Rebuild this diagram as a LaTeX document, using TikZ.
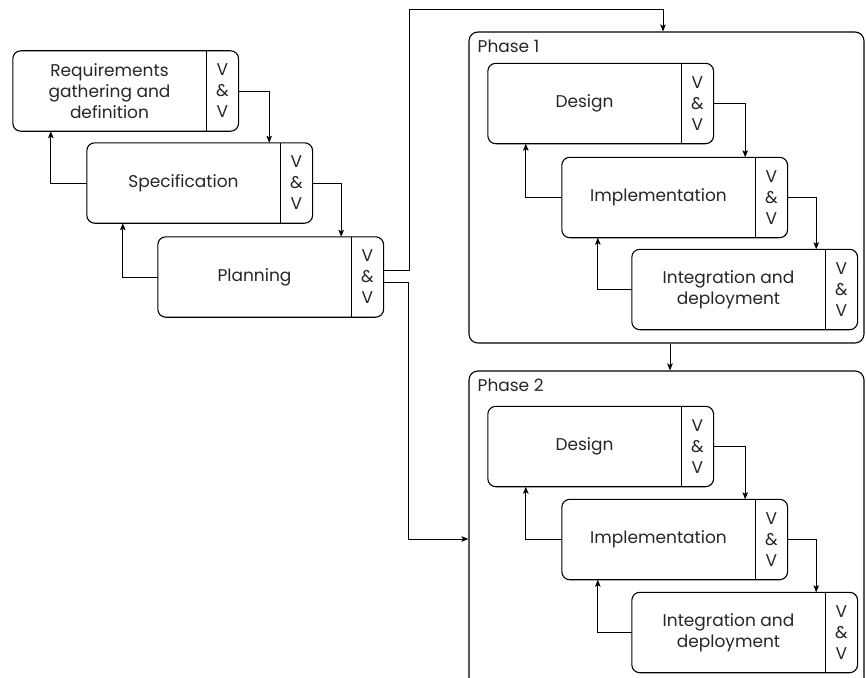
\documentclass[tikz,border=0pt]{standalone}
\usepackage{fontspec}
\setmainfont{Poppins}
\usetikzlibrary{arrows.meta,positioning}

\begin{document}
\begin{tikzpicture}[x=1pt,y=-1pt,>={Stealth[length=7pt,width=5.5pt,inset=1.5pt]},
                    font=\fontsize{17}{21}\selectfont,
                    stage/.style={minimum width=193pt,minimum height=80pt,
                                  inner sep=0pt,align=center,text=black!85},
                    vv/.style={minimum width=32pt,minimum height=80pt,
                               inner sep=0pt,align=center,text=black!85},
                    phase/.style={draw,line width=1.1pt,rounded corners=9pt},
                    flow/.style={->,line width=0.9pt}]

  \useasboundingbox (0,0) rectangle (866,677);

  % the two phase frames
  \node[phase,minimum width=395pt,minimum height=311pt] (ph1) at (666.5,187.5) {};
  \node[phase,minimum width=395pt,minimum height=330pt] (ph2) at (666.5,536) {};
  \node[anchor=base west,inner sep=0pt,text=black!85] (ph1lab)
       at ([xshift=9pt,yshift=-21pt]ph1.north west) {Phase 1};
  \node[anchor=base west,inner sep=0pt,text=black!85] (ph2lab)
       at ([xshift=9pt,yshift=-21pt]ph2.north west) {Phase 2};

  % stages
  \node[stage] (req) at (109.5,91) {Requirements\\gathering and\\definition};
  \node[vv] (req-vv) [right=0pt of req] {V\\\&\\V};
  \node[stage] (spec) at (183.5,183) {Specification};
  \node[vv] (spec-vv) [right=0pt of spec] {V\\\&\\V};
  \node[stage] (plan) at (254.5,277) {Planning};
  \node[vv] (plan-vv) [right=0pt of plan] {V\\\&\\V};

  \node[stage] (des1) at (584.5,103.5) {Design};
  \node[vv] (des1-vv) [right=0pt of des1] {V\\\&\\V};
  \node[stage] (imp1) at (658.5,197.5) {Implementation};
  \node[vv] (imp1-vv) [right=0pt of imp1] {V\\\&\\V};
  \node[stage] (int1) at (728.5,289.5) {Integration and\\deployment};
  \node[vv] (int1-vv) [right=0pt of int1] {V\\\&\\V};

  \node[stage] (des2) at (584.5,446.5) {Design};
  \node[vv] (des2-vv) [right=0pt of des2] {V\\\&\\V};
  \node[stage] (imp2) at (658.5,539.5) {Implementation};
  \node[vv] (imp2-vv) [right=0pt of imp2] {V\\\&\\V};
  \node[stage] (int2) at (728.5,632.5) {Integration and\\deployment};
  \node[vv] (int2-vv) [right=0pt of int2] {V\\\&\\V};

  \foreach \n in {req,spec,plan,des1,imp1,int1,des2,imp2,int2}{
    \draw[line width=1.1pt,rounded corners=8pt] (\n.north west) rectangle (\n-vv.south east);
    \draw[line width=1.1pt] (\n-vv.north west) -- (\n-vv.south west);
  }

  % forward and back flows
  \draw[flow] (req-vv.east) -| ([xshift=-11pt]spec.north east);
  \draw[flow] (spec-vv.east) -| ([xshift=-10pt]plan.north east);
  \draw[flow] (spec.west) -| ([xshift=38pt]req.south west);
  \draw[flow] (plan.west) -| ([xshift=36pt]spec.south west);

  \foreach \p in {1,2}{
    \draw[flow] (des\p-vv.east) -| ([xshift=-10pt]imp\p.north east);
    \draw[flow] (imp\p-vv.east) -| ([xshift=-9pt]int\p.north east);
    \draw[flow] (imp\p.west) -| ([xshift=38pt]des\p.south west);
    \draw[flow] (int\p.west) -| ([xshift=36pt]imp\p.south west);
  }

  % planning into the phases
  \coordinate (rise) at (409,9);
  \coordinate (drop) at (408,539);
  \draw[flow] ([yshift=7pt]plan-vv.east) -| (rise) -| ([xshift=-3.5pt]ph1.north);
  \draw[flow] ([yshift=-5pt]plan-vv.east) -| (drop) -- (drop -| ph2.west);
  \draw[flow] ([xshift=3.5pt]ph1.south) -- ([xshift=3.5pt]ph2.north);
\end{tikzpicture}
\end{document}
